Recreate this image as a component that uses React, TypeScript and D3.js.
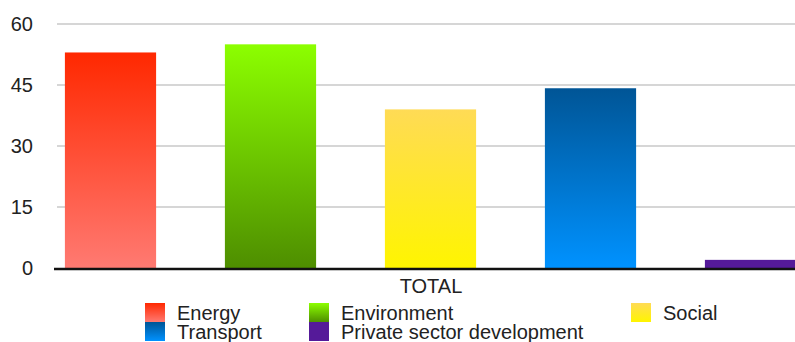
import React from "react";
import * as d3 from "d3";

const categories = ["Energy", "Environment", "Social", "Transport", "Private sector development"];
const values = [53, 55, 39, 44.2, 2];
const yTicks = [0, 15, 30, 45, 60];
const xLabel = "TOTAL";
const gradTop = ["#ff2800", "#8cff00", "#ffdb55", "#005596", "#551a99"];
const gradBottom = ["#ff7a72", "#4e8e00", "#fff500", "#0092ff", "#551a99"];

const W = 795;
const H = 342;

export default function App() {
  const y = d3.scaleLinear().domain([0, 60]).range([268, 24]);
  const x = d3
    .scaleBand<string>()
    .domain(categories)
    .range([30.5, 830.5])
    .paddingInner(0.43)
    .paddingOuter(0.215);

  const font = "'Liberation Sans', Arial, sans-serif";

  const legendPos = [
    { x: 145, y: 303 },
    { x: 309, y: 303 },
    { x: 631, y: 303 },
    { x: 145, y: 322 },
    { x: 309, y: 322 },
  ];

  return (
    <svg
      width={W}
      height={H}
      style={{ position: "absolute", left: 0, top: 0, display: "block" }}
      fontFamily={font}
    >
      <defs>
        {categories.map((c, i) => (
          <linearGradient key={c} id={`g${i}`} x1="0" y1="0" x2="0" y2="1">
            <stop offset="0%" stopColor={gradTop[i]} />
            <stop offset="100%" stopColor={gradBottom[i]} />
          </linearGradient>
        ))}
      </defs>
      <rect width={W} height={H} fill="#fff" />
      {yTicks.map((t) => (
        <g key={t}>
          {t !== 0 && (
            <line x1={57} x2={W} y1={y(t)} y2={y(t)} stroke="#c8c8c8" strokeWidth={1.5} />
          )}
          <text
            x={33}
            y={y(t)}
            dy="0.36em"
            textAnchor="end"
            fontSize={20}
            fill="#222"
          >
            {t}
          </text>
        </g>
      ))}
      {categories.map((c, i) => (
        <rect
          key={c}
          x={x(c)}
          y={y(values[i])}
          width={x.bandwidth()}
          height={y(0) - y(values[i])}
          fill={`url(#g${i})`}
        />
      ))}
      <line x1={54} x2={W} y1={y(0) + 1} y2={y(0) + 1} stroke="#111" strokeWidth={2.5} />
      <text x={431} y={293} textAnchor="middle" fontSize={20} fill="#222">
        {xLabel}
      </text>
      {categories.map((c, i) => (
        <g key={c}>
          <rect
            x={legendPos[i].x}
            y={legendPos[i].y}
            width={20}
            height={19}
            fill={`url(#g${i})`}
          />
          <text
            x={legendPos[i].x + 32}
            y={legendPos[i].y + 10}
            dy="0.36em"
            fontSize={20}
            fill="#222"
          >
            {c}
          </text>
        </g>
      ))}
    </svg>
  );
}
